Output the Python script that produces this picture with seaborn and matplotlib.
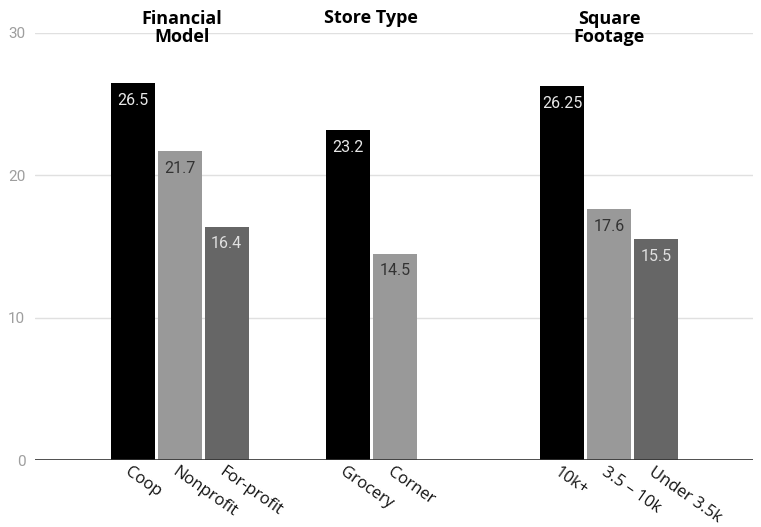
import matplotlib
matplotlib.use("Agg")
import matplotlib.pyplot as plt
import seaborn as sns
import pandas as pd
from matplotlib.transforms import offset_copy

# ---- data ----
categories = ["Coop", "Nonprofit", "For-profit", "Grocery", "Corner",
              "10k+", "3.5 – 10k", "Under 3.5k"]
values = [26.5, 21.7, 16.4, 23.2, 14.5, 26.25, 17.6, 15.5]
value_labels = ["26.5", "21.7", "16.4", "23.2", "14.5", "26.25", "17.6", "15.5"]
shade = ["first", "second", "third", "first", "second", "first", "second", "third"]
group_titles = ["Financial\nModel", "Store Type", "Square\nFootage"]
y_ticks = [0, 10, 20, 30]

# ---- layout (slot positions along x) ----
positions = [0, 1, 2, 4.58, 5.58, 9.14, 10.14, 11.14]
title_x = [1.05, 5.06, 10.14]
title_y = [30.35, 31.05, 30.35]

palette = {"first": "#000000", "second": "#999999", "third": "#666666"}
label_colors = {"first": "#e8e8e8", "second": "#333333", "third": "#e0e0e0"}

df = pd.DataFrame({"pos": positions, "value": values, "shade": shade,
                   "cat": categories})

sns.set_style("white")
plt.rcParams["font.family"] = ["Open Sans", "DejaVu Sans"]

fig = plt.figure(figsize=(7.61, 5.27), dpi=100)
ax = fig.add_axes([35 / 761, 67 / 527, 718 / 761, 427 / 527])

sns.barplot(data=df, x="pos", y="value", hue="shade", palette=palette,
            native_scale=True, dodge=False, width=0.936, legend=False,
            saturation=1, linewidth=0, ax=ax)

ax.set_xlim(-2.08, 13.2)
ax.set_ylim(0, 30)
ax.set_yticks(y_ticks)
ax.set_yticklabels([str(t) for t in y_ticks], color="#9e9e9e",
                   fontsize=11, family=["Roboto", "DejaVu Sans"])
ax.tick_params(axis="y", length=0, pad=7)
ax.grid(axis="y", color="#e0e0e0", linewidth=1)
ax.set_axisbelow(True)
for s in ax.spines.values():
    s.set_visible(False)
ax.axhline(0, color="#333333", linewidth=1.2, zorder=3)

ax.set_xticks(positions)
ax.set_xticklabels([])
ax.tick_params(axis="x", length=0)
ax.set_xlabel("")
ax.set_ylabel("")

# category labels, rotated
for p, c in zip(positions, categories):
    ax.text(p, 0, c, transform=offset_copy(ax.transData, fig=fig, x=-1, y=-3, units="points"),
            rotation=-35, rotation_mode="anchor", ha="left", va="top",
            fontsize=12, color="#111111", clip_on=False)

# value labels inside bars
for p, v, lab, s in zip(positions, values, value_labels, shade):
    ax.annotate(lab, (p, v), xytext=(0, -12.5), textcoords="offset points",
                ha="center", va="center", fontsize=11.5, color=label_colors[s],
                family=["Roboto", "DejaVu Sans"])

# group titles
for x, y, t in zip(title_x, title_y, group_titles):
    ax.text(x, y, t, ha="center", va="center", fontsize=13, fontweight="bold",
            color="#000000", linespacing=0.95, clip_on=False)

fig.savefig("out.png", dpi=100)
